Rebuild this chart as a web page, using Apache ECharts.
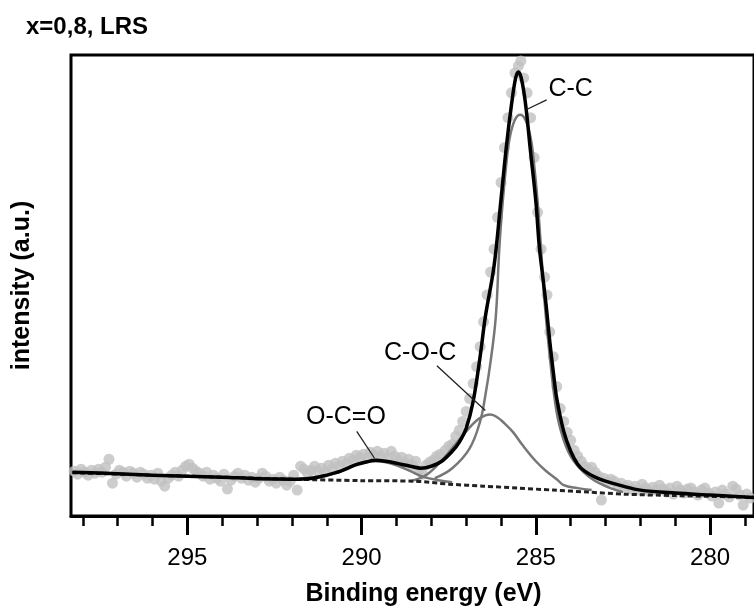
<!DOCTYPE html>
<html><head><meta charset="utf-8">
<script src="https://cdn.jsdelivr.net/npm/echarts@6/dist/echarts.min.js"></script>
<style>html,body{margin:0;padding:0;background:#fff}#c{width:754px;height:612px}</style>
</head><body><div id="c"></div>
<script>
// ---- data (binding energy in eV, intensity in arbitrary units) ----
const dotE = [298.25,298.15,298.05,297.95,297.85,297.75,297.65,297.55,297.45,297.35,297.25,297.15,297.05,296.95,296.85,296.75,296.65,296.55,296.45,296.35,296.25,296.15,296.05,295.95,295.85,295.75,295.65,295.55,295.45,295.35,295.25,295.15,295.05,294.95,294.85,294.75,294.65,294.55,294.45,294.35,294.25,294.15,294.05,293.95,293.85,293.75,293.65,293.55,293.45,293.35,293.25,293.15,293.05,292.95,292.85,292.75,292.65,292.55,292.45,292.35,292.25,292.15,292.05,291.95,291.85,291.75,291.65,291.55,291.45,291.35,291.25,291.15,291.05,290.95,290.85,290.75,290.65,290.55,290.45,290.35,290.25,290.15,290.05,289.95,289.85,289.75,289.65,289.55,289.45,289.35,289.25,289.15,289.05,288.95,288.85,288.75,288.65,288.55,288.45,288.35,288.25,288.15,288.05,287.95,287.85,287.75,287.6,287.5,287.4,287.3,287.2,287.1,287.0,286.9,286.8,286.7,286.6,286.5,286.4,286.3,286.2,286.1,286.0,285.9,285.8,285.7,285.6,285.5,285.43,285.35,285.25,285.15,285.05,284.95,284.85,284.75,284.68,284.6,284.5,284.4,284.3,284.2,284.1,284.0,283.9,283.8,283.7,283.6,283.5,283.4,283.3,283.2,283.12,283.05,282.95,282.85,282.75,282.65,282.55,282.45,282.35,282.25,282.15,282.05,281.95,281.85,281.75,281.65,281.55,281.45,281.35,281.25,281.15,281.05,280.95,280.85,280.75,280.65,280.55,280.45,280.35,280.25,280.15,280.05,279.95,279.85,279.75,279.65,279.55,279.45,279.35,279.25,279.15,279.05,278.95,278.85];
const dotI = [45,42,47,44,41,46,43,47,44,49,57,33,42,46,44,40,45,43,39,44,42,38,41,37,43,35,30,38,41,44,40,46,50,52,48,45,43,40,44,37,41,38,35,42,27,36,40,43,38,41,36,39,34,38,43,40,35,37,33,39,36,31,35,41,26,50,47,43,46,50,45,48,44,51,47,53,50,55,52,58,56,61,59,62,58,64,61,65,60,63,58,65,60,56,59,53,57,51,55,46,42,51,54,56,60,62,66,70,72,80,86,95,105,118,133,150,170,195,222,245,268,300,335,370,400,425,445,452,457,440,425,400,360,305,268,240,222,185,160,130,108,95,84,76,66,60,55,50,47,49,44,40,16,38,34,37,35,30,33,29,31,27,30,26,32,28,25,29,26,31,27,24,28,22,30,26,23,27,28,24,21,26,28,23,20,24,13,26,22,19,30,27,21,11,22,18];

const fitE = [298.3,297,296,295,294,293,292,291.4,291.0,290.6,290.2,289.9,289.6,289.3,289.0,288.6,288.3,288.0,287.7,287.4,287.2,287.0,286.8,286.6,286.45,286.2,286.0,285.85,285.7,285.58,285.5,285.42,285.3,285.15,285.0,284.9,284.8,284.7,284.6,284.5,284.4,284.2,284.0,283.8,283.6,283.3,283.0,282.5,282.0,281.0,280.0,279.0,278.7];
const fitI = [44,42.5,41,40,39,37.5,37,38,41,45,51,54,56,55,53,50,48,50,55,65,74,88,115,160,200,251,318,370,413,440,446,440,415,365,316,270,240,210,175,145,118,85,65,52,45,39,35,30,26,23,21,19,18.5];

const ccE = [287.9,287.4,286.9,286.6,286.45,286.3,286.15,286.05,285.95,285.85,285.75,285.6,285.45,285.3,285.15,285.05,284.95,284.85,284.75,284.6,284.45,284.3,284.0,283.5,283.0,282.5];
const ccI = [38,48,68,95,121,155,200,268,316,353,380,398,403,398,380,353,316,268,215,160,115,88,60,40,30,24];

const cocE = [288.6,288.2,287.8,287.4,287.0,286.7,286.45,286.3,286.1,285.9,285.65,285.4,285.0,284.7,284.4,284.2,283.8,283.4];
const cocI = [35,40,52,68,85,96,101,102,99,93,84,72,55,45,37,31,28,26];

const ocoE = [291.8,291.0,290.6,290.2,289.9,289.6,289.3,289.0,288.6,288.2,287.8,287.4];
const ocoI = [37.5,41,45,51,54,55,54,51,45,39,36,34];

const bgE = [298.3,296,294,292,290,288.5,287.5,286.5,285.5,284.5,283.5,282.5,281,279,278.7];
const bgI = [43.5,41,39,37,35.5,35,32,30,28,26,24,22,20.5,19,18.8];

const minorTicks = [279,280,281,282,283,284,285,286,287,288,289,290,291,292,293,294,295,296,297,298];
const majorTicks = [280,285,290,295];

// annotations: [text, labelE, labelI, lineFromE, lineFromI, lineToE, lineToI]
const notes = [
  ['C-C', 284.0, 429, 284.69, 418, 285.28, 408],
  ['C-O-C', 288.32, 164, 287.84, 151, 286.45, 106],
  ['O-C=O', 290.45, 99, 290.14, 85, 289.63, 58]
];

const zip = (a, b) => a.map((x, i) => [x, b[i]]);
const FONT = 'Liberation Sans, Arial, sans-serif';
const XMAX = 298.34, XMIN = 278.74;

const chart = echarts.init(document.getElementById('c'), null, {renderer: 'canvas'});
const axisBase = {
  type: 'value', inverse: true, min: XMIN, max: XMAX, position: 'bottom',
  splitLine: {show: false}
};
chart.setOption({
  animation: false,
  backgroundColor: '#fff',
  title: {text: 'x=0,8, LRS', left: 21, top: 10,
    textStyle: {fontFamily: FONT, fontWeight: 'bold', fontSize: 24, color: '#000'}},
  grid: {left: 71, top: 55, width: 690, height: 463, show: true,
    borderColor: '#000', borderWidth: 3, backgroundColor: 'transparent'},
  xAxis: [
    Object.assign({}, axisBase, {
      axisLine: {show: true, lineStyle: {color: '#000', width: 3}},
      axisTick: {show: true, customValues: minorTicks, length: 10, lineStyle: {color: '#000', width: 2.5}},
      axisLabel: {show: false}
    }),
    Object.assign({}, axisBase, {
      axisLine: {show: false},
      axisTick: {show: true, customValues: majorTicks, length: 19, lineStyle: {color: '#000', width: 3}},
      axisLabel: {show: true, customValues: majorTicks, margin: 30,
        fontFamily: FONT, fontSize: 24, color: '#000'},
      name: 'Binding energy (eV)', nameLocation: 'middle', nameGap: 66,
      nameTextStyle: {fontFamily: FONT, fontWeight: 'bold', fontSize: 25, color: '#000', padding: [0, 0, 0, 22]}
    })
  ],
  yAxis: {type: 'value', min: 0, max: 463, show: true,
    axisLine: {show: false}, axisTick: {show: false}, axisLabel: {show: false},
    splitLine: {show: false},
    name: 'intensity (a.u.)', nameLocation: 'middle', nameGap: 36,
    nameTextStyle: {fontFamily: FONT, fontWeight: 'bold', fontSize: 25, color: '#000'}},
  series: [
    {type: 'scatter', data: zip(dotE, dotI), symbolSize: 11,
      itemStyle: {color: '#c0c0c0'}, z: 1, silent: true},
    {type: 'line', data: zip(ocoE, ocoI), smooth: 0.4, showSymbol: false,
      lineStyle: {color: '#777', width: 2.5}, z: 2},
    {type: 'line', data: zip(cocE, cocI), smooth: 0.4, showSymbol: false,
      lineStyle: {color: '#777', width: 2.5}, z: 2},
    {type: 'line', data: zip(ccE, ccI), smooth: 0.4, showSymbol: false,
      lineStyle: {color: '#777', width: 2.5}, z: 2},
    {type: 'line', data: zip(bgE, bgI), smooth: 0.3, showSymbol: false,
      lineStyle: {color: '#222', width: 3, type: [5, 3]}, z: 3},
    {type: 'line', data: zip(fitE, fitI), smooth: 0.35, showSymbol: false,
      lineStyle: {color: '#000', width: 3.5}, z: 4}
  ]
});

const g = [];
notes.forEach(n => {
  const p = chart.convertToPixel({gridIndex: 0}, [n[1], n[2]]);
  const a = chart.convertToPixel({gridIndex: 0}, [n[3], n[4]]);
  const b = chart.convertToPixel({gridIndex: 0}, [n[5], n[6]]);
  g.push({type: 'text', x: p[0], y: p[1], z: 10,
    style: {text: n[0], fontFamily: FONT, fontSize: 25, fill: '#000', align: 'center', verticalAlign: 'middle'}});
  g.push({type: 'line', z: 10, shape: {x1: a[0], y1: a[1], x2: b[0], y2: b[1]},
    style: {stroke: '#222', lineWidth: 1.3}});
});
chart.setOption({graphic: g});
</script></body></html>
